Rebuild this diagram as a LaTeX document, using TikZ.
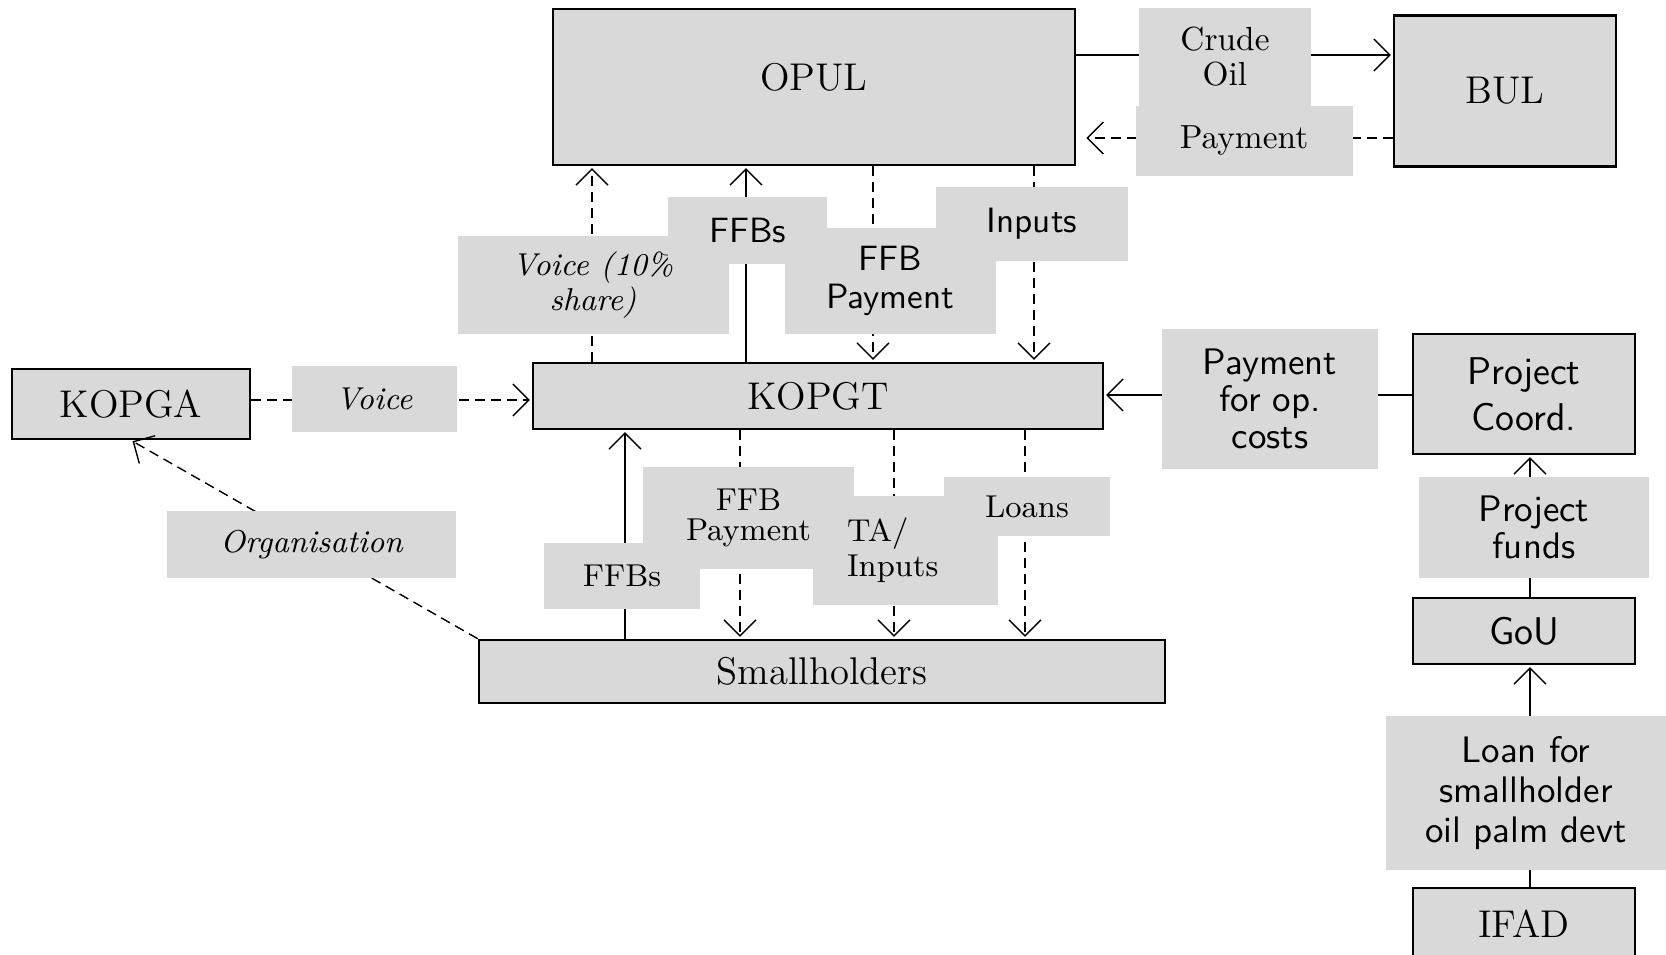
\documentclass[tikz,border=0pt]{standalone}
\usepackage{tikz}
\usetikzlibrary{arrows.meta, positioning}
\definecolor{boxgray}{HTML}{D9D9D9}
\tikzset{->,>={Straight Barb[length=1.6mm,width=3.2mm]},shorten >=0.5pt,
    line width=0.7pt,
    org/.style={rectangle,draw,fill=boxgray,line width=0.75pt,inner sep=1pt,align=center,
        font=\fontsize{11}{13}\selectfont},
    orgsans/.style={org,font=\sffamily\fontsize{11}{13}\selectfont},
    flow/.style={rectangle,fill=boxgray,inner sep=0pt,align=center},
    serifsm/.style={font=\fontsize{9}{8.5}\selectfont},
    serifmd/.style={font=\fontsize{9.5}{10}\selectfont},
    itl/.style={font=\itshape\fontsize{9}{8.5}\selectfont},
    sans/.style={font=\sffamily\fontsize{10}{11}\selectfont},
    sanslg/.style={font=\sffamily\fontsize{10.5}{10.5}\selectfont},
    dashflow/.style={dash pattern=on 1mm off 0.6mm}}
\begin{document}
\begin{tikzpicture}
[x=0.1mm,y=-0.1mm]
\useasboundingbox (0,0) rectangle (1666,954);

% actors
\node[org, minimum width=52.2mm, minimum height=15.6mm, text depth=2mm] (OPUL) at (814,87) {OPUL};
\node[org, minimum width=22.2mm, minimum height=15.1mm] (BUL) at (1505,91) {BUL};
\node[org, minimum width=23.8mm, minimum height=7mm] (KOPGA) at (131,404) {KOPGA};
\node[org, minimum width=57mm, minimum height=6.6mm] (KOPGT) at (818,396) {KOPGT};
\node[org, minimum width=68.6mm, minimum height=6.3mm] (SH) at (822,671.5) {Smallholders};
\node[orgsans, minimum width=22.2mm, minimum height=12mm] (PC) at (1524,394) {Project\\Coord.};
\node[orgsans, minimum width=22.2mm, minimum height=6.6mm] (GoU) at (1524,631) {GoU};
\node[org, minimum width=22.2mm, minimum height=7.2mm] (IFAD) at (1524,924) {IFAD};

% columns and rows for the flows
\coordinate (oilrow) at (1200,55);
\coordinate (payrow) at (1200,138);
\coordinate (voicerow) at (400,400);
\coordinate (oprow) at (1200,395);
\coordinate (cVoiceU) at (592,0);
\coordinate (cFfbU) at (746,0);
\coordinate (cPayU) at (873,0);
\coordinate (cInpU) at (1034,0);
\coordinate (cFfbL) at (625,0);
\coordinate (cPayL) at (740,0);
\coordinate (cTaL) at (894,0);
\coordinate (cLoanL) at (1025,0);
\coordinate (cProj) at (1530,0);

\draw (OPUL.east |- oilrow) -- (BUL.west |- oilrow);
\draw[dashflow, shorten >=1mm] (BUL.west |- payrow) -- (OPUL.east |- payrow);
\draw[dashflow] (cVoiceU |- KOPGT.north) -- (cVoiceU |- OPUL.south);
\draw (cFfbU |- KOPGT.north) -- (cFfbU |- OPUL.south);
\draw[dashflow] (cPayU |- OPUL.south) -- (cPayU |- KOPGT.north);
\draw[dashflow] (cInpU |- OPUL.south) -- (cInpU |- KOPGT.north);
\draw[dashflow] (KOPGA.east |- voicerow) -- (KOPGT.west |- voicerow);
\draw[dashflow] (SH.north west) -- (KOPGA.south);
\draw (PC.west |- oprow) -- (KOPGT.east |- oprow);
\draw (cFfbL |- SH.north) -- (cFfbL |- KOPGT.south);
\draw[dashflow] (cPayL |- KOPGT.south) -- (cPayL |- SH.north);
\draw[dashflow] (cTaL |- KOPGT.south) -- (cTaL |- SH.north);
\draw[dashflow] (cLoanL |- KOPGT.south) -- (cLoanL |- SH.north);
\draw (cProj |- GoU.north) -- (cProj |- PC.south);
\draw (cProj |- IFAD.north) -- (cProj |- GoU.south);

% flow labels
\node[flow, serifmd, minimum width=17.2mm, minimum height=9.8mm] (crude) at (1225,57) {Crude\\Oil};
\node[flow, serifmd, minimum width=21.7mm, minimum height=7mm] (payOPUL) at (1244,141) {Payment};
\node[flow, itl, minimum width=27.1mm, minimum height=9.8mm] (voiceshare) at (593,285) {Voice (10\%\\share)};
\node[flow, sans, minimum width=15.9mm, minimum height=6.7mm] (ffbsU) at (747.5,230.5) {FFBs};
\node[flow, sans, minimum width=21.1mm, minimum height=10.6mm] (ffbpayU) at (890,281) {FFB\\Payment};
\node[flow, sans, minimum width=19.2mm, minimum height=7.4mm] (inputsU) at (1032,224) {Inputs};
\node[flow, itl, minimum width=16.5mm, minimum height=6.6mm] (voice) at (374,399) {Voice};
\node[flow, itl, minimum width=28.9mm, minimum height=6.7mm] (organ) at (311.5,544.5) {Organisation};
\node[flow, sanslg, minimum width=21.6mm, minimum height=14mm] (opcost) at (1270,399) {Payment\\for op.\\costs};
\node[flow, sanslg, minimum width=23mm, minimum height=10.1mm] (funds) at (1534,527.5) {Project\\funds};
\node[flow, sanslg, minimum width=28.1mm, minimum height=15.4mm, font=\sffamily\fontsize{10.5}{11.5}\selectfont] (loan) at (1526,793) {Loan for\\smallholder\\oil palm devt};
\node[flow, serifsm, minimum width=21.1mm, minimum height=10.2mm] (ffbpayL) at (748.5,518) {FFB\\Payment};
\node[flow, serifsm, minimum width=15.6mm, minimum height=6.6mm] (ffbsL) at (622,576) {FFBs};
\node[flow, serifsm, align=left, text width=11.7mm, minimum width=18.5mm, minimum height=10.9mm, font=\fontsize{9}{10}\selectfont] (tainputs) at (905.5,550.5) {TA/\\Inputs};
\node[flow, serifsm, minimum width=16.6mm, minimum height=5.9mm] (loans) at (1027,506.5) {Loans};
\end{tikzpicture}
\end{document}
